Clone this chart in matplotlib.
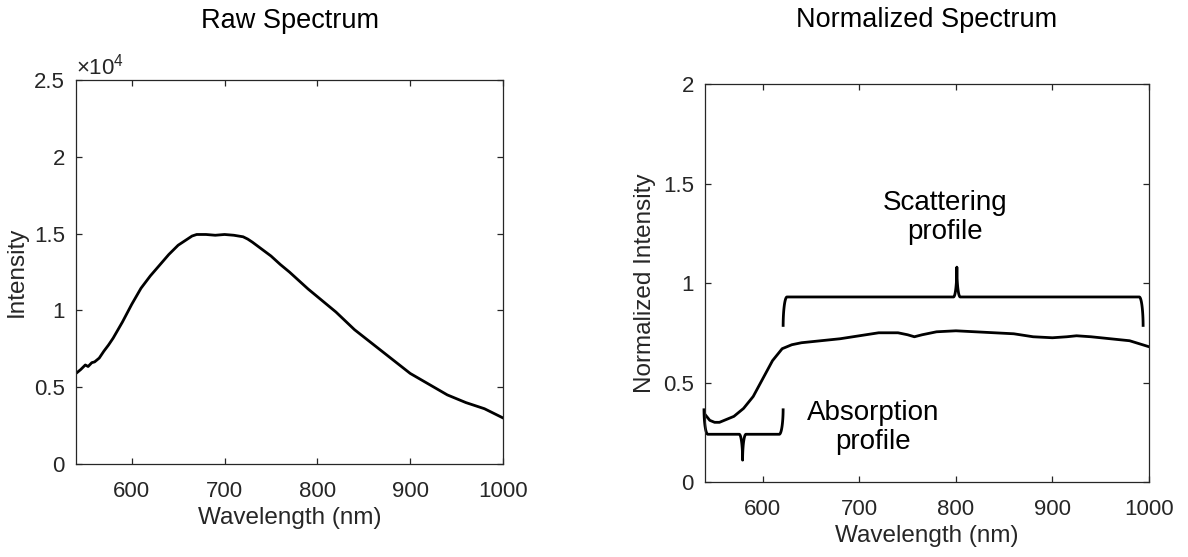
import numpy as np
import matplotlib
matplotlib.use('Agg')
import matplotlib.pyplot as plt
from matplotlib.ticker import FuncFormatter

plt.rcParams['font.family'] = ['Liberation Sans', 'DejaVu Sans']
plt.rcParams['mathtext.fontset'] = 'custom'
plt.rcParams['mathtext.rm'] = 'Liberation Sans'

# raw spectrum (wavelength in nm, intensity in counts)
raw_nm = [540, 545, 550, 553, 557, 560, 565, 570, 575, 580, 590, 600, 610, 620, 630,
          640, 650, 660, 665, 670, 680, 690, 700, 710, 720, 725, 730, 740, 750,
          760, 770, 780, 790, 800, 820, 840, 860, 880, 900, 920, 940, 960, 980, 1000]
raw_int = [5900, 6150, 6450, 6350, 6600, 6650, 6900, 7350, 7750, 8200, 9250, 10400,
           11450, 12250, 12950, 13650, 14250, 14650, 14850, 14950, 14950, 14900,
           14950, 14900, 14800, 14650, 14450, 14000, 13550, 13000, 12500, 11950,
           11400, 10900, 9900, 8750, 7800, 6850, 5900, 5200, 4500, 4000, 3600, 3000]

# normalized spectrum
norm_nm = [540, 545, 550, 555, 560, 570, 580, 590, 600, 610, 620, 630, 640, 660,
           680, 700, 720, 740, 750, 757, 765, 780, 800, 820, 840, 860, 880, 900,
           915, 925, 940, 960, 980, 1000]
norm_int = [0.34, 0.31, 0.30, 0.30, 0.31, 0.33, 0.37, 0.43, 0.52, 0.61, 0.67, 0.69,
            0.70, 0.71, 0.72, 0.735, 0.75, 0.75, 0.74, 0.73, 0.74, 0.755, 0.76,
            0.755, 0.75, 0.745, 0.73, 0.725, 0.73, 0.735, 0.73, 0.72, 0.71, 0.68]

# braces: (start, end, centre, line level, end level, tip level)
scat_brace = (621, 994, 801, 0.93, 0.78, 1.08)
abs_brace = (539, 621, 579, 0.24, 0.37, 0.11)


def brace(ax, x0, x1, xc, yh, yend, ytip, dxe=4.0, dxt=3.5):
    t = np.linspace(0, np.pi / 2, 30)
    # left end
    px = list(x0 + dxe - dxe * np.cos(t))
    py = list(yend + (yh - yend) * np.sin(t))
    # rise to tip from the left
    px += list(xc - dxt + dxt * np.sin(t))
    py += list(ytip - (ytip - yh) * np.cos(t))
    # down from tip to the right
    px += list(xc + dxt - dxt * np.sin(t[::-1]))
    py += list(ytip - (ytip - yh) * np.cos(t[::-1]))
    # right end
    px += list(x1 - dxe + dxe * np.cos(t[::-1]))
    py += list(yend + (yh - yend) * np.sin(t[::-1]))
    ax.plot(px, py, color='black', lw=2, clip_on=False, solid_capstyle='butt')


def style(ax):
    for s in ax.spines.values():
        s.set_color('#262626')
        s.set_linewidth(0.9)
    ax.tick_params(direction='in', top=True, right=True, length=4, width=0.9,
                   labelsize=16, colors='#262626')
    ax.tick_params(axis='x', pad=12)
    ax.tick_params(axis='y', pad=8)


fig = plt.figure(figsize=(11.88, 5.57), dpi=100)

ax1 = fig.add_axes([0.064, 0.167, 0.3594, 0.689])
ax1.plot(raw_nm, raw_int, color='black', lw=2)
ax1.set_xlim(540, 1000)
ax1.set_ylim(0, 25000)
ax1.set_xticks([600, 700, 800, 900, 1000])
ax1.set_yticks([0, 5000, 10000, 15000, 20000, 25000])
ax1.yaxis.set_major_formatter(FuncFormatter(lambda v, p: f"{v / 1e4:g}"))
style(ax1)
ax1.text(0.0, 1.003, r'$\times\mathregular{10^4}$', transform=ax1.transAxes,
         fontsize=16, color='#262626', ha='left', va='bottom')
ax1.set_xlabel('Wavelength (nm)', fontsize=17.5, color='#262626', labelpad=4)
ax1.set_ylabel('Intensity', fontsize=17.5, color='#262626')
ax1.yaxis.set_label_coords(-0.112, 0.5)
ax1.text(0.5, 1.155, 'Raw Spectrum', transform=ax1.transAxes, fontsize=19.5,
         ha='center', va='center')

ax2 = fig.add_axes([0.5934, 0.1346, 0.3737, 0.7145])
ax2.plot(norm_nm, norm_int, color='black', lw=2)
ax2.set_xlim(540, 1000)
ax2.set_ylim(0, 2)
ax2.set_xticks([600, 700, 800, 900, 1000])
ax2.set_yticks([0, 0.5, 1, 1.5, 2])
ax2.yaxis.set_major_formatter(FuncFormatter(lambda v, p: f"{v:g}"))
style(ax2)
ax2.set_xlabel('Wavelength (nm)', fontsize=17.5, color='#262626', labelpad=4)
ax2.set_ylabel('Normalized Intensity', fontsize=17.5, color='#262626')
ax2.yaxis.set_label_coords(-0.11, 0.5)
ax2.text(0.5, 1.16, 'Normalized Spectrum', transform=ax2.transAxes, fontsize=19.5,
         ha='center', va='center')

brace(ax2, *scat_brace)
brace(ax2, *abs_brace)
ax2.text(789, 1.33, 'Scattering\nprofile', fontsize=20, ha='center', va='center',
         linespacing=1.15)
ax2.text(714, 0.275, 'Absorption\nprofile', fontsize=20, ha='center', va='center',
         linespacing=1.15)

fig.savefig('out.png', dpi=100)
